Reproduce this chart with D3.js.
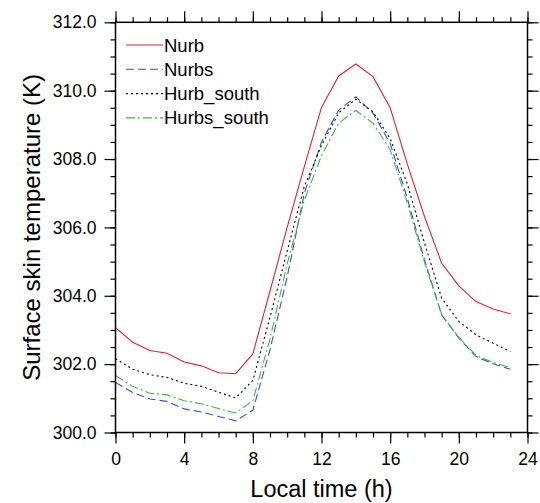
<!doctype html>
<meta charset="utf-8">
<script src="https://d3js.org/d3.v7.min.js"></script>
<style>
  body { margin: 0; background: #fff; }
  text { font-family: "Liberation Sans", Arial, sans-serif; fill: #000; }
</style>
<body>
<svg width="540" height="503"></svg>
<script>
// hourly values
var hours = [0, 1, 2, 3, 4, 5, 6, 7, 8, 9, 10, 11, 12, 13, 14, 15, 16, 17, 18, 19, 20, 21, 22, 23];
var nurb = [303.07, 302.64, 302.40, 302.32, 302.06, 301.95, 301.75, 301.72, 302.30, 304.14, 306.00, 307.78,
  309.51, 310.43, 310.78, 310.41, 309.50, 307.85, 306.32, 304.95, 304.29, 303.83, 303.61, 303.47];
var nurbs = [301.46, 301.17, 300.98, 300.91, 300.69, 300.60, 300.47, 300.34, 300.65, 302.42, 304.55, 307.00,
  308.50, 309.43, 309.82, 309.34, 308.46, 306.85, 305.05, 303.44, 302.76, 302.22, 302.01, 301.85];
var hurbSouth = [302.16, 301.85, 301.69, 301.61, 301.44, 301.35, 301.18, 301.01, 301.52, 303.37, 305.31, 307.20,
  308.40, 309.35, 309.75, 309.38, 308.60, 307.27, 305.54, 303.93, 303.25, 302.86, 302.61, 302.37];
var hurbsSouth = [301.67, 301.35, 301.15, 301.10, 300.93, 300.84, 300.70, 300.57, 300.93, 302.74, 304.93, 306.80,
  308.10, 309.05, 309.42, 309.05, 308.27, 306.72, 304.98, 303.45, 302.78, 302.25, 302.05, 301.90];

var seriesNames = ["Nurb", "Nurbs", "Hurb_south", "Hurbs_south"];
var xTicks = [0, 4, 8, 12, 16, 20, 24];
var yTicks = [300, 302, 304, 306, 308, 310, 312];

var series = [
  { name: seriesNames[0], values: nurb, color: "#e3232d", dash: null },
  { name: seriesNames[1], values: nurbs, color: "#3f4fc4", dash: "8,4" },
  { name: seriesNames[2], values: hurbSouth, color: "#000", dash: "2,3" },
  { name: seriesNames[3], values: hurbsSouth, color: "#3dba3d", dash: "9,3,2,3" }
];

var svg = d3.select("svg");
var pLeft = 115.5, pRight = 527.5, pTop = 22.3, pBottom = 432.5;

var x = d3.scaleLinear().domain([0, 24]).range([pLeft, pRight]);
var y = d3.scaleLinear().domain([300, 312]).range([pBottom, pTop]);

// lines
var line = d3.line()
  .x(function (d, i) { return x(hours[i]); })
  .y(function (d) { return y(d); });

series.forEach(function (s) {
  svg.append("path")
    .attr("d", line(s.values))
    .attr("fill", "none")
    .attr("stroke", s.color)
    .attr("stroke-width", 1.1)
    .attr("stroke-dasharray", s.dash);
});

// axes, ticks outward on all four sides
function styleAxis(g) {
  g.select(".domain").remove();
  g.attr("font-size", null).attr("font-family", null);
  g.selectAll(".tick line").attr("stroke", "#000").attr("stroke-width", 1.2);
  g.selectAll("text").style("font-size", "17.5px").style("fill", "#000");
}
var xMinor = d3.range(0, 25, 1);
var yMinor = d3.range(300, 312.01, 0.5);

svg.append("g").attr("transform", "translate(0," + pBottom + ")")
  .call(d3.axisBottom(x).tickValues(xMinor).tickSize(5).tickFormat(""))
  .call(styleAxis);
svg.append("g").attr("transform", "translate(0," + pBottom + ")")
  .call(d3.axisBottom(x).tickValues(xTicks).tickSize(11).tickPadding(9).tickFormat(d3.format("d")))
  .call(styleAxis);

svg.append("g").attr("transform", "translate(0," + pTop + ")")
  .call(d3.axisTop(x).tickValues(xMinor).tickSize(5).tickFormat(""))
  .call(styleAxis);
svg.append("g").attr("transform", "translate(0," + pTop + ")")
  .call(d3.axisTop(x).tickValues(xTicks).tickSize(11).tickFormat(""))
  .call(styleAxis);

svg.append("g").attr("transform", "translate(" + pLeft + ",0)")
  .call(d3.axisLeft(y).tickValues(yMinor).tickSize(5).tickFormat(""))
  .call(styleAxis);
svg.append("g").attr("transform", "translate(" + pLeft + ",0)")
  .call(d3.axisLeft(y).tickValues(yTicks).tickSize(11).tickPadding(8).tickFormat(d3.format(".1f")))
  .call(styleAxis);

svg.append("g").attr("transform", "translate(" + pRight + ",0)")
  .call(d3.axisRight(y).tickValues(yMinor).tickSize(5).tickFormat(""))
  .call(styleAxis);
svg.append("g").attr("transform", "translate(" + pRight + ",0)")
  .call(d3.axisRight(y).tickValues(yTicks).tickSize(11).tickFormat(""))
  .call(styleAxis);

// frame
svg.append("rect")
  .attr("x", pLeft).attr("y", pTop)
  .attr("width", pRight - pLeft).attr("height", pBottom - pTop)
  .attr("fill", "none").attr("stroke", "#000").attr("stroke-width", 1.5);

// axis titles
svg.append("text")
  .attr("x", (pLeft + pRight) / 2).attr("y", 497)
  .attr("text-anchor", "middle").style("font-size", "23.5px")
  .text("Local time (h)");
svg.append("text")
  .attr("transform", "translate(40," + (pTop + pBottom) / 2 + ") rotate(-90)")
  .attr("text-anchor", "middle").style("font-size", "24px")
  .text("Surface skin temperature (K)");

// legend
var legend = svg.append("g");
series.forEach(function (s, i) {
  var ly = 45 + i * 24.3;
  legend.append("line")
    .attr("x1", 126).attr("x2", 163).attr("y1", ly).attr("y2", ly)
    .attr("stroke", s.color).attr("stroke-width", 1.1)
    .attr("stroke-dasharray", s.dash);
  legend.append("text")
    .attr("x", 164).attr("y", ly + 6.5)
    .style("font-size", "18.5px")
    .text(s.name);
});
</script>
</body>
